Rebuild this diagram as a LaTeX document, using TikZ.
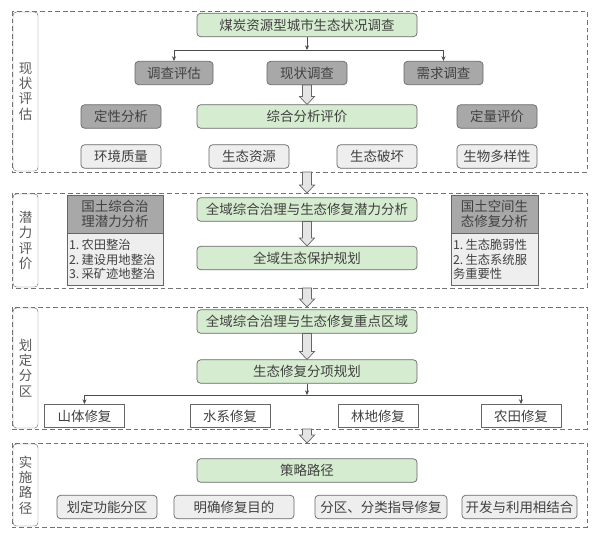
\documentclass[tikz,border=0pt]{standalone}
\usepackage{fontspec}
\setmainfont{Noto Sans CJK SC}
\usetikzlibrary{arrows.meta,calc}
\definecolor{boxgreen}{RGB}{214,236,208}
\definecolor{boxdark}{RGB}{168,168,168}
\definecolor{boxlight}{RGB}{238,238,238}
\definecolor{inkgray}{RGB}{65,65,65}
\tikzset{
  base/.style={draw=black!60,rounded corners=3pt,minimum height=0.7cm,inner sep=0pt,text=inkgray,line width=0.6pt},
  greenbox/.style={base,fill=boxgreen},
  darkbox/.style={base,fill=boxdark},
  lightbox/.style={base,fill=boxlight},
  plainbox/.style={base,rounded corners=0pt,fill=white},
  headbox/.style={base,rounded corners=0pt,fill=boxdark,align=center,minimum height=38*0.03cm},
  listbox/.style={base,rounded corners=0pt,fill=boxlight,align=left,anchor=north,minimum height=52*0.03cm,inner xsep=0.06cm,font=\fontsize{10.5}{12.4}\selectfont},
  frame/.style={draw=black!55,dash pattern=on 4pt off 2.5pt,line width=0.7pt},
  labbox/.style={draw=black!55,rounded corners=3pt,fill=white,minimum width=25*0.03cm,align=center,text=black!65,inner sep=0pt,font=\fontsize{11.5}{13}\selectfont},
  tarr/.style={draw=black!70,line width=0.6pt,-{Stealth[length=4pt,width=3.5pt]}},
  hollow/.style={draw=black!60,fill=black!10,line width=0.6pt,line join=miter},
}
\begin{document}
\begin{tikzpicture}[x=0.03cm,y=-0.03cm,font=\fontsize{11.5}{12.8}\selectfont]
\useasboundingbox (0,0) rectangle (600,550);
\def\bx#1#2#3#4#5{\node[#1,minimum width=#4*0.03cm] (#2) at (#3) {#5};}
\def\secbox#1#2#3#4{\draw[frame] (12,#2) rectangle (587,#3);
  \node[labbox,minimum height={(#3-#2-2)*0.03cm}] (#1) at (25.5,{(#2+#3)/2}) {#4};}
\def\harr#1#2{\draw[hollow] let \p1=(#1),\p2=(#2) in (\x1-3.8pt,\y1) -- (\x1-3.8pt,\y2+6.8pt) -- (\x1-6.4pt,\y2+6.8pt) -- (\x1,\y2) -- (\x1+6.4pt,\y2+6.8pt) -- (\x1+3.8pt,\y2+6.8pt) -- (\x1+3.8pt,\y1) -- cycle;}
% 现状评估
\secbox{lab1}{11}{172}{现\\状\\评\\估}
\bx{greenbox}{top}{307,25}{220}{煤炭资源型城市生态状况调查}
\foreach \n/\x/\w/\t in {s1/174/78/调查评估,s2/307/80/现状调查,s3/443.5/79/需求调查}{\bx{darkbox}{\n}{\x,73}{\w}{\t}}
\bx{darkbox}{q1}{121,116.5}{80}{定性分析}
\bx{greenbox}{zh}{307,116.5}{220}{综合分析评价}
\bx{darkbox}{q2}{497,116.5}{80}{定量评价}
\foreach \n/\x/\t in {e1/121/环境质量,e2/249/生态资源,e3/377/生态破坏,e4/497/生物多样性}{\bx{lightbox}{\n}{\x,156.5}{80}{\t}}
\coordinate (j1) at (307,50);
\draw[tarr] (top) -- (j1);
\draw[tarr] (j1) -| (s1);
\draw[tarr] (j1) -| (s3);
\harr{s2.south}{zh.north}
% 潜力评价
\secbox{lab2}{193}{288}{潜\\力\\评\\价}
\node[headbox,minimum width=96*0.03cm] (h1) at (115,214) {国土综合治\\理潜力分析};
\node[listbox,text width=92*0.03cm] (b1) at (h1.south) {1.\hspace{2pt}农田整治\\2.\hspace{2pt}建设用地整治\\3.\hspace{2pt}采矿迹地整治};
\node[headbox,minimum width=87*0.03cm] (h2) at (494.5,214) {国土空间生\\态修复分析};
\node[listbox,text width=83*0.03cm] (b2) at (h2.south) {1.\hspace{2pt}生态脆弱性\\2.\hspace{2pt}生态系统服\\务重要性};
\bx{greenbox}{pot}{307,209.5}{220}{全域综合治理与生态修复潜力分析}
\bx{greenbox}{prot}{307,258}{220}{全域生态保护规划}
\harr{pot.south}{prot.north}
\coordinate (f1b) at (307,172); \coordinate (f2t) at (307,193);
\harr{f1b}{f2t}
% 划定分区
\secbox{lab3}{307}{429}{划\\定\\分\\区}
\bx{greenbox}{key}{307,321.5}{220}{全域综合治理与生态修复重点区域}
\bx{greenbox}{sub}{307,371.5}{220}{生态修复分项规划}
\harr{key.south}{sub.north}
\foreach \n/\x/\t in {m1/84.5/山体修复,m2/230/水系修复,m3/378/林地修复,m4/521/农田修复}{\bx{plainbox}{\n}{\x,416}{80}{\t}}
\coordinate (j3) at (307,395);
\draw[tarr] (sub) -- (j3);
\draw[tarr] (j3) -| (m1);
\draw[tarr] (j3) -| (m4);
\coordinate (f2b) at (307,288); \coordinate (f3t) at (307,307);
\harr{f2b}{f3t}
% 实施路径
\secbox{lab4}{443}{527}{实\\施\\路\\径}
\bx{greenbox}{way}{307,470.5}{220}{策略路径}
\foreach \n/\x/\w/\t in {p1/107/100/划定功能分区,p2/234/120/明确修复目的,p3/381/132/分区、分类指导修复,p4/519.5/115/开发与利用相结合}{\bx{lightbox}{\n}{\x,507}{\w}{\t}}
\coordinate (f3b) at (307,429); \coordinate (f4t) at (307,443);
\harr{f3b}{f4t}
\end{tikzpicture}
\end{document}
